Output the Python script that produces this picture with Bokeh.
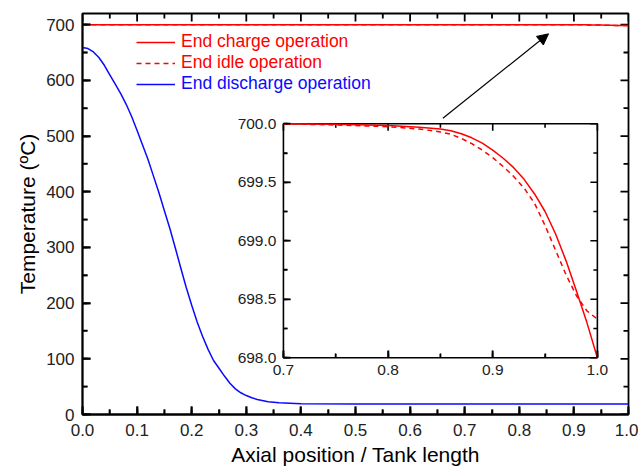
from bokeh.plotting import figure
from bokeh.models import (Range1d, LinearAxis, SingleIntervalTicker, PrintfTickFormatter,
                          Legend, LegendItem, Arrow, NormalHead)
from bokeh.embed import file_html
from bokeh.resources import INLINE

# ---------------- data ----------------
# end charge / end idle profiles (axial position, temperature in degC)
position = [0.0, 0.5, 0.70, 0.75, 0.80, 0.83, 0.85, 0.86, 0.87, 0.88, 0.89, 0.90, 0.91,
            0.92, 0.93, 0.94, 0.95, 0.96, 0.97, 0.98, 0.99, 1.00]
charge_T = [700.0, 700.0, 700.0, 699.995, 699.985, 699.97, 699.955, 699.94, 699.915,
            699.88, 699.835, 699.775, 699.705, 699.625, 699.525, 699.40, 699.25, 699.06,
            698.83, 698.57, 698.30, 698.00]
idle_T = [700.0, 700.0, 700.0, 699.99, 699.975, 699.955, 699.93, 699.91, 699.875, 699.83,
          699.775, 699.71, 699.635, 699.55, 699.45, 699.32, 699.13, 698.92, 698.71,
          698.53, 698.40, 698.33]

# end discharge profile
disc_pos = [0.00, 0.01, 0.02, 0.03, 0.04, 0.05, 0.06, 0.07, 0.08, 0.09, 0.10, 0.11, 0.12,
            0.13, 0.14, 0.15, 0.16, 0.17, 0.18, 0.19, 0.20, 0.21, 0.22, 0.23, 0.24, 0.25,
            0.26, 0.27, 0.28, 0.29, 0.30, 0.31, 0.32, 0.34, 0.36, 0.40, 0.50, 1.00]
disc_T = [659, 657, 651, 641, 627, 610, 593, 576, 557, 535, 510, 484, 458, 428, 398, 366,
          334, 299, 263, 228, 196, 166, 140, 117, 97, 83, 69, 56, 46, 39, 34, 30, 27, 23,
          21, 19.5, 19, 19]

labels = ["End charge operation", "End idle operation", "End discharge operation"]
x_label = "Axial position / Tank length"
y_label = "Temperature (ºC)"

# tick values
x_major = [0.0, 0.1, 0.2, 0.3, 0.4, 0.5, 0.6, 0.7, 0.8, 0.9, 1.0]
x_minor = [0.05, 0.15, 0.25, 0.35, 0.45, 0.55, 0.65, 0.75, 0.85, 0.95]
y_major = [0, 100, 200, 300, 400, 500, 600, 700]
y_minor = [50, 150, 250, 350, 450, 550, 650]
ix_major = [0.7, 0.8, 0.9, 1.0]
ix_minor = [0.75, 0.85, 0.95]
iy_major = [698.0, 698.5, 699.0, 699.5, 700.0]
iy_minor = [698.25, 698.75, 699.25, 699.75]

# ---------------- style / layout ----------------
FONT = "Liberation Sans"
RED = "#ff0000"
BLUE = "#0a0aff"
TXT = "#222222"
DARK = "#000000"

W, H = 638, 468
BL, BR, BT, BB = 82, 10, 13, 54
FW, FH = W - BL - BR, H - BT - BB      # frame size in px

X0, X1, Y0, Y1 = 0.0, 1.0, 0.0, 720.0
p = figure(width=W, height=H, x_range=Range1d(X0, X1), y_range=Range1d(Y0, Y1),
           output_backend="svg", toolbar_location=None,
           min_border_left=BL, min_border_right=BR, min_border_top=BT, min_border_bottom=BB)
p.grid.visible = False
p.outline_line_color = DARK
p.outline_line_width = 1.8
p.background_fill_color = "white"
p.border_fill_color = "white"


def style_axis(ax, font_size, standoff, tin=8, tmin=5):
    ax.axis_line_color = DARK
    ax.axis_line_width = 1.8
    ax.major_tick_in = tin
    ax.major_tick_out = 0
    ax.minor_tick_in = tmin
    ax.minor_tick_out = 0
    ax.major_tick_line_color = DARK
    ax.minor_tick_line_color = DARK
    ax.major_tick_line_width = 1.8
    ax.minor_tick_line_width = 1.6
    ax.major_label_text_font = FONT
    ax.major_label_text_color = TXT
    ax.major_label_standoff = standoff
    ax.major_label_text_font_size = font_size


p.xaxis.ticker = SingleIntervalTicker(interval=0.1, num_minor_ticks=2)
p.yaxis.ticker = SingleIntervalTicker(interval=100, num_minor_ticks=2)
p.xaxis.formatter = PrintfTickFormatter(format="%.1f")
style_axis(p.xaxis[0], "17px", 9)
style_axis(p.yaxis[0], "17px", 8)
p.xaxis.axis_label = x_label
p.yaxis.axis_label = y_label
for ax in (p.xaxis[0], p.yaxis[0]):
    ax.axis_label_text_font = FONT
    ax.axis_label_text_font_size = "21px"
    ax.axis_label_text_font_style = "normal"
    ax.axis_label_text_color = DARK
    ax.axis_label_standoff = 4


def tick_boxes(xs, ys, length_px, direction, xspan, yspan, width_px):
    """Inward tick marks as thin rectangles; pixel sizes converted with the range spans."""
    px_x = xspan / FW
    px_y = yspan / FH
    L, R, B, T = [], [], [], []
    for x, y in zip(xs, ys):
        if direction in ("up", "down"):
            hw = width_px * px_x / 2
            L.append(x - hw)
            R.append(x + hw)
            ln = length_px * px_y
            B.append(y if direction == "up" else y - ln)
            T.append(y + ln if direction == "up" else y)
        else:
            hw = width_px * px_y / 2
            B.append(y - hw)
            T.append(y + hw)
            ln = length_px * px_x
            L.append(x if direction == "right" else x - ln)
            R.append(x + ln if direction == "right" else x)
    return L, R, B, T


def draw_ticks(specs, xr="default", yr="default"):
    L, R, B, T = [], [], [], []
    for args in specs:
        l, r, b, t = tick_boxes(*args)
        L += l
        R += r
        B += b
        T += t
    p.quad(left=L, right=R, bottom=B, top=T, fill_color=DARK, line_color=None,
           x_range_name=xr, y_range_name=yr)


XS, YS = X1 - X0, Y1 - Y0
main_specs = []
for vals, ln in ((x_major, 8), (x_minor, 5)):
    main_specs.append((vals, [Y0] * len(vals), ln, "up", XS, YS, 1.8))
    main_specs.append((vals, [Y1] * len(vals), ln, "down", XS, YS, 1.8))
for vals, ln in ((y_major, 8), (y_minor, 5)):
    main_specs.append(([X0] * len(vals), vals, ln, "right", XS, YS, 1.8))
    main_specs.append(([X1] * len(vals), vals, ln, "left", XS, YS, 1.8))
draw_ticks(main_specs)

# main curves
r_charge = p.line(position, charge_T, line_color=RED, line_width=1.5)
r_idle = p.line(position, idle_T, line_color=RED, line_width=1.5, line_dash="5 4")
r_disc = p.line(disc_pos, disc_T, line_color=BLUE, line_width=1.5)

# legends, one per entry so each label keeps its own colour
legend_rows = [(labels[0], r_charge, RED, 362), (labels[1], r_idle, RED, 341),
               (labels[2], r_disc, BLUE, 320)]
for text, rend, col, ypos in legend_rows:
    lg = Legend(items=[LegendItem(label=text, renderers=[rend])], location=(54, ypos),
                padding=0, margin=0, spacing=0, glyph_width=39, glyph_height=20,
                label_height=20, label_standoff=6, label_text_font=FONT,
                label_text_font_size="17.5px", label_text_color=col,
                border_line_color=None, background_fill_alpha=0)
    p.add_layout(lg)

# ---------------- inset (drawn in the same frame on its own ranges) ----------------
inset_x0, inset_x1 = 0.7, 1.0
inset_y0, inset_y1 = 698.0, 700.0
# inset box expressed in main data coordinates
box_x0, box_x1 = 0.368, 0.943
box_y0, box_y1 = 102.0, 522.0
sx = (box_x1 - box_x0) / (inset_x1 - inset_x0)
sy = (box_y1 - box_y0) / (inset_y1 - inset_y0)
irx = Range1d(inset_x0 - (box_x0 - X0) / sx, inset_x0 + (X1 - box_x0) / sx)
iry = Range1d(inset_y0 - (box_y0 - Y0) / sy, inset_y0 + (Y1 - box_y0) / sy)
p.extra_x_ranges = {"ix": irx}
p.extra_y_ranges = {"iy": iry}
IXS, IYS = irx.end - irx.start, iry.end - iry.start

p.quad(left=[inset_x0], right=[inset_x1], bottom=[inset_y0], top=[inset_y1],
       fill_color=None, line_color=DARK, line_width=1.6, x_range_name="ix", y_range_name="iy")

inset_specs = []
for vals, ln in ((ix_major, 7), (ix_minor, 4)):
    inset_specs.append((vals, [inset_y0] * len(vals), ln, "up", IXS, IYS, 1.6))
    inset_specs.append((vals, [inset_y1] * len(vals), ln, "down", IXS, IYS, 1.6))
for vals, ln in ((iy_major, 7), (iy_minor, 4)):
    inset_specs.append(([inset_x0] * len(vals), vals, ln, "right", IXS, IYS, 1.6))
    inset_specs.append(([inset_x1] * len(vals), vals, ln, "left", IXS, IYS, 1.6))
draw_ticks(inset_specs, "ix", "iy")

sel = [i for i, v in enumerate(position) if v >= inset_x0]
ixs = [position[i] for i in sel]
p.line(ixs, [charge_T[i] for i in sel], line_color=RED, line_width=1.5,
       x_range_name="ix", y_range_name="iy")
p.line(ixs, [idle_T[i] for i in sel], line_color=RED, line_width=1.5, line_dash="5 4",
       x_range_name="ix", y_range_name="iy")


def inset_axis(side, loc, interval):
    ax = LinearAxis(x_range_name="ix", y_range_name="iy",
                    ticker=SingleIntervalTicker(interval=interval, num_minor_ticks=2),
                    fixed_location=loc)
    style_axis(ax, "15.5px", 7, tin=7, tmin=4)
    ax.axis_line_color = None
    ax.major_tick_line_width = 1.6
    ax.minor_tick_line_width = 1.4
    ax.bounds = (inset_x0, inset_x1) if side == "below" else (inset_y0, inset_y1)
    ax.formatter = PrintfTickFormatter(format="%.1f")
    p.add_layout(ax, side)
    return ax


inset_axis("below", inset_y0, 0.1)
inset_axis("left", inset_x0, 0.5)

# arrow pointing from the inset to the zoomed region
arrow_start = (0.66, 532)
arrow_end = (0.8535, 683.5)
p.add_layout(Arrow(end=NormalHead(size=11, fill_color=DARK, line_color=DARK),
                   x_start=arrow_start[0], y_start=arrow_start[1],
                   x_end=arrow_end[0], y_end=arrow_end[1],
                   line_color=DARK, line_width=1.2))

open("out.html", "w").write(file_html(p, INLINE))
